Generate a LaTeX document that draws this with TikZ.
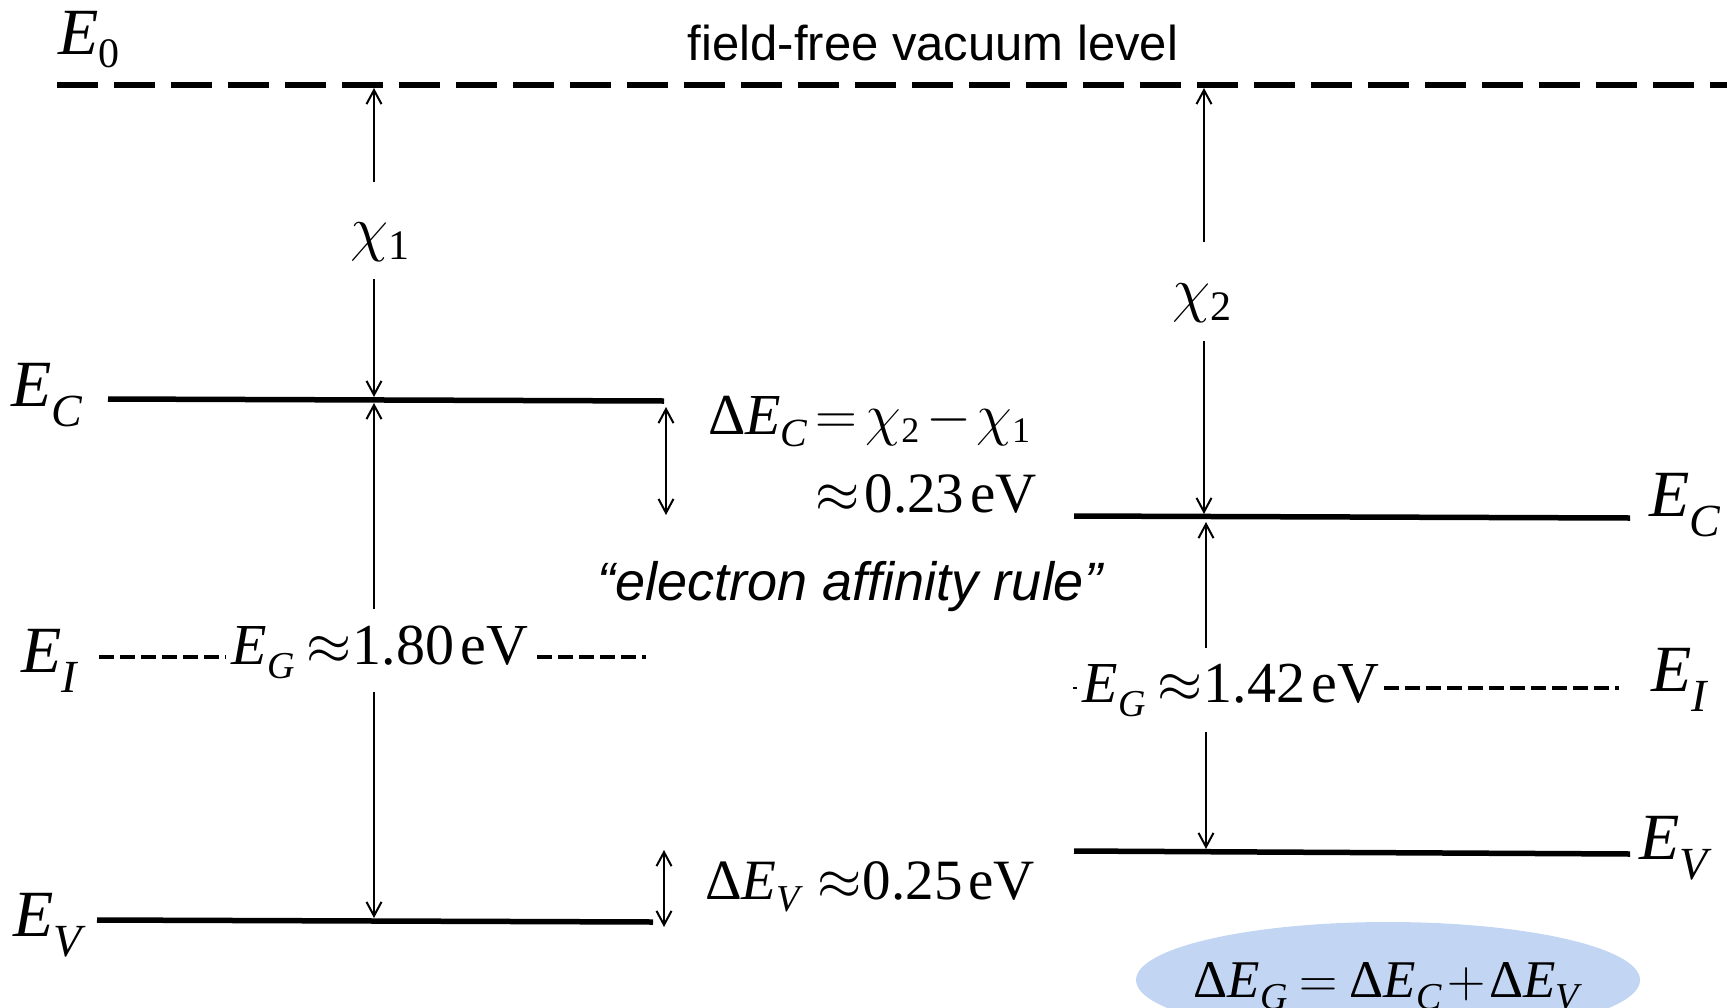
\RequirePackage{fix-cm}
\documentclass[tikz,border=0pt]{standalone}
\usepackage{fontspec}
\setmainfont{Liberation Serif}
\setsansfont{Liberation Sans}
\usetikzlibrary{arrows.meta,shapes.geometric}
\definecolor{ellblue}{RGB}{194,214,244}
\newcommand\sbs[3]{\raisebox{-#1pt}{\fontsize{#2}{#2}\selectfont #3}}
\newcommand\fs[1]{\fontsize{#1}{#1}\selectfont}
\begin{document}
\begin{tikzpicture}[x=1pt,y=-1pt,
  lvl/.style={line width=5.5pt},
  vac/.style={line width=5.5pt,dash pattern=on 41pt off 16pt},
  arr/.style={line width=2pt,-{Straight Barb[length=14pt,width=15pt,line width=2pt]}},
  dbl/.style={line width=2pt,{Straight Barb[length=14pt,width=15pt,line width=2pt]}-{Straight Barb[length=14pt,width=15pt,line width=2pt]}},
  eidash/.style={line width=3.2pt,dash pattern=on 15pt off 6pt},
  lab/.style={inner sep=0pt},
]
\useasboundingbox (0,0) rectangle (1727,1007);
% ellipse
\node[ellipse,fill=ellblue,minimum width=504pt,minimum height=116pt,inner sep=0pt] (eq) at (1388,980) {};
\node[lab] (eqt) at (1388,986) {\fs{53}Δ\textit{E}\sbs{12}{38}{\textit{G}}\kern12pt$=$\kern12pt Δ\textit{E}\sbs{12}{38}{\textit{C}}\kern6pt$+$\kern3pt Δ\textit{E}\sbs{12}{38}{\textit{V}}};

% vacuum level
\coordinate (vacL) at (57,85);
\coordinate (vacR) at (1727,85);
\draw[vac] (vacL) -- (vacR);
\node[lab] (E0) at (89,40) {\fs{66}\textit{E}\sbs{13}{42}{0}};
\node[lab,font={\sffamily\fs{49}}] (ffv) at (933,43) {field-free vacuum level};

% left levels
\coordinate (ECl1) at (108,399); \coordinate (ECl2) at (664,401);
\coordinate (EVl1) at (97,920);  \coordinate (EVl2) at (653,922);
\draw[lvl] (ECl1) -- (ECl2);
\draw[lvl] (EVl1) -- (EVl2);
\node[lab] (ECl) at (47,395) {\fs{66}\textit{E}\sbs{20}{46}{\textit{C}}};
\node[lab] (EIl) at (50,661) {\fs{66}\textit{E}\sbs{20}{46}{\textit{I}}};
\node[lab] (EVl) at (50,925) {\fs{66}\textit{E}\sbs{20}{46}{\textit{V}}};

% chi1 arrow
\node[lab] (chi1) at (380,242) {\fs{62}$\chi$\sbs{10}{42}{1}};
\coordinate (c1t) at (374,88); \coordinate (c1a) at (374,182);
\coordinate (c1b) at (374,279); \coordinate (c1c) at (374,397);
\draw[arr] (c1a) -- (c1t);
\draw[arr] (c1b) -- (c1c);

% left gap arrow
\node[lab] (EGl) at (380,652) {\fs{58}\textit{E}\sbs{14}{38}{\textit{G}}\kern12pt$\approx$\kern1pt1.80\kern6pt eV};
\coordinate (g1t) at (374,403); \coordinate (g1a) at (374,609);
\coordinate (g1b) at (374,692); \coordinate (g1c) at (374,918);
\draw[arr] (g1a) -- (g1t);
\draw[arr] (g1b) -- (g1c);
\coordinate (d1a) at (99,657); \coordinate (d1b) at (226,657);
\coordinate (d2a) at (537,657); \coordinate (d2b) at (646,657);
\draw[eidash] (d1a) -- (d1b);
\draw[eidash] (d2a) -- (d2b);

% offsets left
\coordinate (dc1) at (666,407); \coordinate (dc2) at (666,515);
\draw[dbl] (dc1) -- (dc2);
\node[lab,anchor=west] (dEC) at (708,422) {\fs{58}Δ\textit{E}\sbs{12}{40}{\textit{C}}\kern8pt$=$\kern8pt$\chi$\sbs{8}{36}{2}\kern7pt$-$\kern5pt$\chi$\sbs{8}{36}{1}};
\node[lab,anchor=west] (v023) at (815,494) {\fs{57}$\approx$\kern5pt0.23\kern6pt eV};
\node[lab,font={\sffamily\itshape\fs{54}}] (ear) at (850,587) {“electron affinity rule”};
\coordinate (dv1) at (664,850); \coordinate (dv2) at (664,927);
\draw[dbl] (dv1) -- (dv2);
\node[lab,anchor=west] (dEV) at (705,887) {\fs{57}Δ\textit{E}\sbs{12}{38}{\textit{V}}\kern14pt$\approx$\kern1pt0.25\kern6pt eV};

% right levels
\coordinate (ECr1) at (1074,516); \coordinate (ECr2) at (1630,518);
\coordinate (EVr1) at (1074,851); \coordinate (EVr2) at (1630,854);
\draw[lvl] (ECr1) -- (ECr2);
\draw[lvl] (EVr1) -- (EVr2);
\node[lab] (ECr) at (1685,505) {\fs{66}\textit{E}\sbs{20}{46}{\textit{C}}};
\node[lab] (EIr) at (1680,680) {\fs{66}\textit{E}\sbs{20}{46}{\textit{I}}};
\node[lab] (EVr) at (1676,848) {\fs{66}\textit{E}\sbs{20}{46}{\textit{V}}};

% chi2 arrow
\node[lab] (chi2) at (1202,303) {\fs{62}$\chi$\sbs{10}{42}{2}};
\coordinate (c2t) at (1204,88); \coordinate (c2a) at (1204,242);
\coordinate (c2b) at (1204,341); \coordinate (c2c) at (1204,514);
\draw[arr] (c2a) -- (c2t);
\draw[arr] (c2b) -- (c2c);

% right gap arrow
\node[lab] (EGr) at (1231,690) {\fs{58}\textit{E}\sbs{14}{38}{\textit{G}}\kern12pt$\approx$\kern1pt1.42\kern6pt eV};
\coordinate (g2t) at (1206,522); \coordinate (g2a) at (1206,648);
\coordinate (g2b) at (1206,732); \coordinate (g2c) at (1206,849);
\draw[arr] (g2a) -- (g2t);
\draw[arr] (g2b) -- (g2c);
\coordinate (d3a) at (1073,688); \coordinate (d3b) at (1077,688);
\coordinate (d4a) at (1384,688); \coordinate (d4b) at (1619,688);
\draw[line width=2.2pt] (d3a) -- (d3b);
\draw[eidash] (d4a) -- (d4b);
\end{tikzpicture}
\end{document}
